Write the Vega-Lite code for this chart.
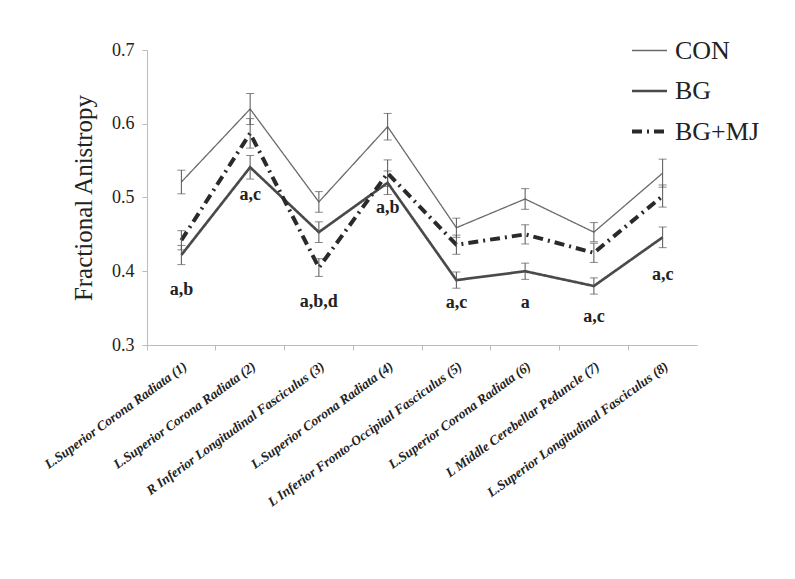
{
  "$schema": "https://vega.github.io/schema/vega-lite/v6.json",
  "width": 550,
  "height": 295,
  "autosize": {"type": "none"},
  "padding": {"left": 147, "top": 50, "right": 98, "bottom": 234},
  "background": "white",
  "config": {
    "view": {"stroke": null},
    "font": "Liberation Serif",
    "axis": {"domainColor": "#bbbbbb", "tickColor": "#bbbbbb", "tickSize": 5, "labelColor": "#222222", "titleColor": "#222222", "grid": false}
  },
  "datasets": {
    "fa": [
      {"region": "L.Superior Corona Radiata (1)", "group": "CON", "mean": 0.521, "lo": 0.505, "hi": 0.537, "sig": null, "sigY": null},
      {"region": "L.Superior Corona Radiata (2)", "group": "CON", "mean": 0.620, "lo": 0.599, "hi": 0.641, "sig": null, "sigY": null},
      {"region": "R Inferior Longitudinal Fasciculus (3)", "group": "CON", "mean": 0.494, "lo": 0.480, "hi": 0.508, "sig": null, "sigY": null},
      {"region": "L.Superior Corona Radiata (4)", "group": "CON", "mean": 0.596, "lo": 0.578, "hi": 0.614, "sig": null, "sigY": null},
      {"region": "L Inferior Fronto-Occipital Fasciculus (5)", "group": "CON", "mean": 0.459, "lo": 0.446, "hi": 0.472, "sig": null, "sigY": null},
      {"region": "L.Superior Corona Radiata (6)", "group": "CON", "mean": 0.498, "lo": 0.484, "hi": 0.512, "sig": null, "sigY": null},
      {"region": "L Middle Cerebellar Peduncle (7)", "group": "CON", "mean": 0.453, "lo": 0.440, "hi": 0.466, "sig": null, "sigY": null},
      {"region": "L.Superior Longitudinal Fasciculus (8)", "group": "CON", "mean": 0.533, "lo": 0.514, "hi": 0.552, "sig": null, "sigY": null},
      {"region": "L.Superior Corona Radiata (1)", "group": "BG", "mean": 0.422, "lo": 0.409, "hi": 0.435, "sig": "a,b", "sigY": 0.375},
      {"region": "L.Superior Corona Radiata (2)", "group": "BG", "mean": 0.541, "lo": 0.525, "hi": 0.557, "sig": "a,c", "sigY": 0.503},
      {"region": "R Inferior Longitudinal Fasciculus (3)", "group": "BG", "mean": 0.453, "lo": 0.439, "hi": 0.467, "sig": "a,b,d", "sigY": 0.358},
      {"region": "L.Superior Corona Radiata (4)", "group": "BG", "mean": 0.520, "lo": 0.504, "hi": 0.536, "sig": "a,b", "sigY": 0.486},
      {"region": "L Inferior Fronto-Occipital Fasciculus (5)", "group": "BG", "mean": 0.388, "lo": 0.377, "hi": 0.399, "sig": "a,c", "sigY": 0.357},
      {"region": "L.Superior Corona Radiata (6)", "group": "BG", "mean": 0.400, "lo": 0.389, "hi": 0.411, "sig": "a", "sigY": 0.357},
      {"region": "L Middle Cerebellar Peduncle (7)", "group": "BG", "mean": 0.380, "lo": 0.369, "hi": 0.391, "sig": "a,c", "sigY": 0.338},
      {"region": "L.Superior Longitudinal Fasciculus (8)", "group": "BG", "mean": 0.446, "lo": 0.432, "hi": 0.460, "sig": "a,c", "sigY": 0.395},
      {"region": "L.Superior Corona Radiata (1)", "group": "BG+MJ", "mean": 0.442, "lo": 0.429, "hi": 0.455, "sig": null, "sigY": null},
      {"region": "L.Superior Corona Radiata (2)", "group": "BG+MJ", "mean": 0.587, "lo": 0.567, "hi": 0.607, "sig": null, "sigY": null},
      {"region": "R Inferior Longitudinal Fasciculus (3)", "group": "BG+MJ", "mean": 0.405, "lo": 0.393, "hi": 0.417, "sig": null, "sigY": null},
      {"region": "L.Superior Corona Radiata (4)", "group": "BG+MJ", "mean": 0.533, "lo": 0.515, "hi": 0.551, "sig": null, "sigY": null},
      {"region": "L Inferior Fronto-Occipital Fasciculus (5)", "group": "BG+MJ", "mean": 0.436, "lo": 0.423, "hi": 0.449, "sig": null, "sigY": null},
      {"region": "L.Superior Corona Radiata (6)", "group": "BG+MJ", "mean": 0.450, "lo": 0.437, "hi": 0.463, "sig": null, "sigY": null},
      {"region": "L Middle Cerebellar Peduncle (7)", "group": "BG+MJ", "mean": 0.425, "lo": 0.412, "hi": 0.438, "sig": null, "sigY": null},
      {"region": "L.Superior Longitudinal Fasciculus (8)", "group": "BG+MJ", "mean": 0.502, "lo": 0.487, "hi": 0.517, "sig": null, "sigY": null}
    ]
  },
  "data": {"name": "fa"},
  "encoding": {
    "x": {
      "field": "region",
      "type": "nominal",
      "sort": null,
      "scale": {"type": "band", "paddingInner": 0, "paddingOuter": 0},
      "axis": {
        "title": null,
        "bandPosition": 0,
        "labelAngle": -36,
        "labelFontSize": 13.5,
        "labelFontStyle": "italic",
        "labelFontWeight": "bold",
        "labelLimit": 0,
        "labelPadding": 9
      }
    }
  },
  "layer": [
    {
      "mark": {"type": "line"},
      "encoding": {
        "y": {
          "field": "mean",
          "type": "quantitative",
          "scale": {"domain": [0.3, 0.7], "zero": false, "nice": false},
          "axis": {
            "values": [0.3, 0.4, 0.5, 0.6, 0.7],
            "format": ".1f",
            "title": "Fractional Anistropy",
            "titleFontSize": 25,
            "titleFontWeight": "normal",
            "titlePadding": 15,
            "labelFontSize": 18,
            "labelPadding": 8
          }
        },
        "color": {
          "field": "group",
          "type": "nominal",
          "scale": {"domain": ["CON", "BG", "BG+MJ"], "range": ["#6a6a6a", "#4a4a4a", "#2a2a2a"]},
          "legend": {"title": null, "orient": "none", "legendX": 483, "legendY": -18, "symbolType": "stroke", "symbolSize": 1225, "labelFontSize": 26, "labelColor": "#222222", "rowPadding": 8, "labelOffset": 6}
        },
        "strokeWidth": {
          "field": "group",
          "type": "nominal",
          "scale": {"domain": ["CON", "BG", "BG+MJ"], "range": [1.3, 4, 1.5]},
          "legend": {"title": null, "orient": "none", "legendX": 483, "legendY": -18, "symbolType": "stroke", "symbolSize": 1225, "labelFontSize": 26, "labelColor": "#222222", "rowPadding": 8, "labelOffset": 6}
        },
        "strokeDash": {
          "field": "group",
          "type": "nominal",
          "scale": {"domain": ["CON", "BG", "BG+MJ"], "range": [[1, 0], [1, 0], [10, 5, 2, 5]]},
          "legend": {"title": null, "orient": "none", "legendX": 483, "legendY": -18, "symbolType": "stroke", "symbolSize": 1225, "labelFontSize": 26, "labelColor": "#222222", "rowPadding": 8, "labelOffset": 6}
        }
      }
    },
    {
      "mark": {"type": "rule", "color": "#555555", "strokeWidth": 1},
      "encoding": {
        "y": {"field": "lo", "type": "quantitative"},
        "y2": {"field": "hi"}
      }
    },
    {
      "mark": {"type": "tick", "color": "#555555", "thickness": 1, "size": 8, "orient": "horizontal"},
      "encoding": {
        "y": {"field": "lo", "type": "quantitative"}
      }
    },
    {
      "mark": {"type": "tick", "color": "#555555", "thickness": 1, "size": 8, "orient": "horizontal"},
      "encoding": {
        "y": {"field": "hi", "type": "quantitative"}
      }
    },
    {
      "transform": [{"filter": "datum.sig != null"}],
      "mark": {"type": "text", "fontSize": 18, "fontWeight": "bold", "color": "#222222"},
      "encoding": {
        "y": {"field": "sigY", "type": "quantitative"},
        "text": {"field": "sig"}
      }
    }
  ]
}
